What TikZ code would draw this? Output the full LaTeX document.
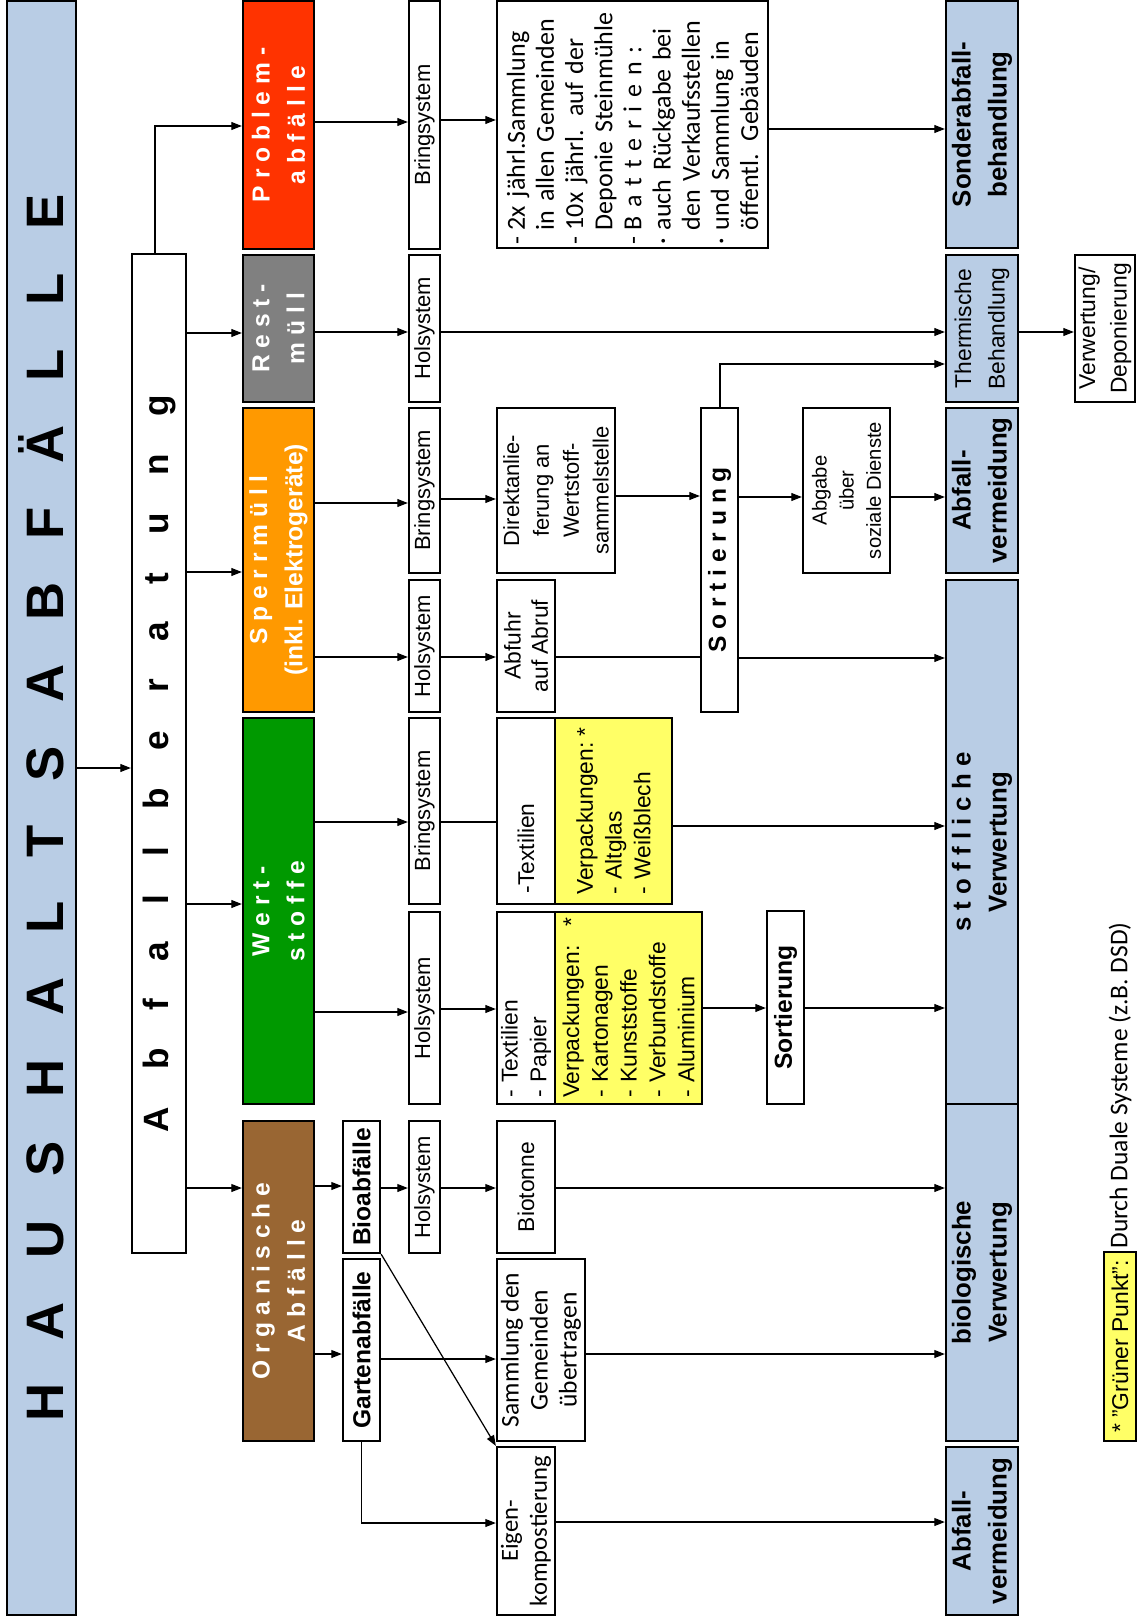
\documentclass[tikz,border=0pt]{standalone}
\usepackage{fontspec}
\setmainfont{Liberation Sans}
\newfontfamily\carlito{Carlito}
\usepackage{tikz}
\usetikzlibrary{arrows.meta}

\definecolor{zielblau}{HTML}{B9CDE5}
\definecolor{problemrot}{HTML}{FF3300}
\definecolor{restgrau}{HTML}{808080}
\definecolor{sperrorange}{HTML}{FF9900}
\definecolor{wertgruen}{HTML}{009900}
\definecolor{biobraun}{HTML}{996633}
\definecolor{punktgelb}{HTML}{FFFF66}

\newcommand{\strich}{\makebox[0.55em][l]{-}}
\newcommand{\mittelpunkt}{\makebox[0.55em][l]{·}}
\newcommand{\einzug}{\hspace*{0.55em}}

\begin{document}
\begin{tikzpicture}[
    x=0.02cm, y=-0.02cm,
    box/.style={rectangle, draw=black, line width=1.3pt, fill=white, rotate=90, inner sep=1pt, align=center},
    boxsize/.style 2 args={minimum height=#1*0.02cm, minimum width=#2*0.02cm},
    waste/.style={box, text=white, font=\bfseries\fontsize{14}{20}\selectfont},
    sys/.style={box, font=\fontsize{12.5}{15}\selectfont},
    info/.style={box, font=\fontsize{13}{16.4}\selectfont},
    dual/.style={info, fill=punktgelb, align=left},
    goal/.style={box, fill=zielblau, font=\bfseries\fontsize{14.7}{20.5}\selectfont},
    sortbox/.style={box, font=\bfseries\fontsize{14}{17}\selectfont},
    arrow/.style={-{Triangle[length=6pt,width=4.5pt]}, line width=0.7pt},
    link/.style={line width=0.7pt}
]
    \useasboundingbox (0,0) rectangle (1139,1618);

    % Haushalt und Beratung
    \node[box, boxsize={69}{1614}, fill=zielblau, font=\bfseries\fontsize{30}{30}\selectfont] (haus) at (41.5,808)
        {\makebox[24.56cm][s]{H A U S H A L T S A B F Ä L L E}};
    \node[box, boxsize={54}{999}, font=\bfseries\fontsize{20}{20}\selectfont] (beratung) at (159,753.5)
        {\makebox[14.76cm][s]{A b f a l l b e r a t u n g}\hspace{0.42cm}};

    % Abfallarten
    \node[waste, boxsize={71}{248}, fill=problemrot] (prob) at (278.5,125) {P r o b l e m -\\a b f ä l l e};
    \node[waste, boxsize={71}{147}, fill=restgrau] (rest) at (278.5,328.5) {R e s t -\\m ü l l};
    \node[waste, boxsize={71}{304}, fill=sperrorange] (sperr) at (278.5,560) {S p e r r m ü l l\\(inkl. Elektrogeräte)};
    \node[waste, boxsize={71}{386}, fill=wertgruen] (wert) at (278.5,911) {W e r t -\\s t o f f e};
    \node[waste, boxsize={71}{320}, fill=biobraun] (organ) at (278.5,1281) {O r g a n i s c h e\\A b f ä l l e};
    \node[sortbox, boxsize={37}{132}, inner sep=0pt] (bio) at (361.5,1187) {Bioabfälle};
    \node[sortbox, boxsize={37}{182}, inner sep=0pt] (garten) at (361.5,1350) {Gartenabfälle};

    % Sammelsysteme
    \node[sys, boxsize={31}{248}] (bringprob) at (424.5,125) {Bringsystem};
    \node[sys, boxsize={31}{147}] (holrest) at (424.5,328.5) {Holsystem};
    \node[sys, boxsize={31}{165}] (bringsperr) at (424.5,490.5) {Bringsystem};
    \node[sys, boxsize={31}{132}] (holsperr) at (424.5,646) {Holsystem};
    \node[sys, boxsize={31}{186}] (bringwert) at (424.5,811) {Bringsystem};
    \node[sys, boxsize={31}{192}] (holwert) at (424.5,1008) {Holsystem};
    \node[sys, boxsize={31}{132}] (holbio) at (424.5,1187) {Holsystem};

    % Erfassung
    \node[info, boxsize={271}{247}, align=left, text width=4.8cm, font=\carlito\fontsize{14.8}{16.6}\selectfont] (probtext) at (632.5,124.5)
        {\strich 2x jährl.Sammlung\\
         \einzug in allen Gemeinden\\
         \strich 10x jährl. auf der\\
         \einzug Deponie Steinmühle\\
         \strich B a t t e r i e n :\\
         \mittelpunkt auch Rückgabe bei\\
         \einzug den Verkaufsstellen\\
         \mittelpunkt und Sammlung in\\
         \einzug öffentl. Gebäuden};
    \node[info, boxsize={118}{165}, font=\fontsize{12.5}{17}\selectfont] (direkt) at (556,490.5) {Direktanlie-\\ferung an\\Wertstoff-\\sammelstelle};
    \node[info, boxsize={58}{132}, font=\fontsize{13}{15.5}\selectfont] (abruf) at (526,646) {Abfuhr\\auf Abruf};
    \node[info, boxsize={58}{186}, align=left, text width=3.3cm] (textilb) at (526,811) {-Textilien};
    \node[dual, boxsize={117}{186}, text width=3.35cm] (glas) at (613.5,811) {Verpackungen:\hfill *\\- Altglas\\- Weißblech};
    \node[info, boxsize={58}{192}, align=left, text width=3.6cm] (textilh) at (526,1008) {- Textilien\\- Papier};
    \node[dual, boxsize={147}{192}, text width=3.6cm] (verpack) at (628.5,1008)
        {Verpackungen:\hfill *\\- Kartonagen\\- Kunststoffe\\- Verbundstoffe\\- Aluminium};
    \node[info, boxsize={58}{132}] (biotonne) at (526,1187) {Biotonne};
    \node[info, boxsize={88}{182}, font=\carlito\fontsize{14.5}{16.5}\selectfont] (sammlung) at (541,1350) {Sammlung den\\Gemeinden\\übertragen};
    \node[info, boxsize={58}{168}, inner sep=0pt, font=\carlito\fontsize{14}{16.5}\selectfont] (eigen) at (526,1531) {Eigen-\\kompostierung};

    % Sortierung
    \node[sortbox, boxsize={37}{304}] (sortbig) at (719.5,560) {S o r t i e r u n g};
    \node[sortbox, boxsize={37}{193}] (sortsmall) at (785.5,1007.5) {Sortierung};
    \node[info, boxsize={87}{165}, font=\fontsize{11.5}{15.5}\selectfont] (abgabe) at (846.5,490.5) {Abgabe\\über\\soziale Dienste};

    % Behandlung
    \node[goal, boxsize={72}{247}] (sonder) at (982,124.5) {Sonderabfall-\\behandlung};
    \node[goal, boxsize={72}{147}, font=\fontsize{13}{19}\selectfont] (thermisch) at (982,328.5) {Thermische\\Behandlung};
    \node[goal, boxsize={72}{165}] (vermeidung1) at (982,490.5) {Abfall-\\vermeidung};
    \node[goal, boxsize={72}{524}] (stoffl) at (982,842) {s t o f f l i c h e\\Verwertung};
    \node[goal, boxsize={72}{337}] (biolog) at (982,1272.5) {biologische\\Verwertung};
    \node[goal, boxsize={72}{168}] (vermeidung2) at (982,1531) {Abfall-\\vermeidung};
    \node[info, boxsize={60}{147}, font=\fontsize{13}{18}\selectfont] (deponie) at (1105,328.5) {Verwertung/\\Deponierung};

    % Fussnote
    \node[box, boxsize={32}{189}, fill=punktgelb, inner sep=0pt, font=\fontsize{13}{15}\selectfont] (punkt) at (1120,1346.5) {* "Grüner Punkt":};
    \node[rotate=90, anchor=west, inner sep=0pt, font=\carlito\fontsize{14.5}{16}\selectfont] (dsd) at (1120,1249) {Durch Duale Systeme (z.B. DSD)};

    % Haushalt zur Beratung
    \draw[arrow] (haus.south |- 0,768) -- (beratung.north |- 0,768);
    % Beratung zu den Abfallarten
    \draw[arrow] (beratung.east -| 155,0) |- (prob.north |- 0,126);
    \draw[arrow] (beratung.south |- 0,333) -- (rest.north |- 0,333);
    \draw[arrow] (beratung.south |- 0,572) -- (sperr.north |- 0,572);
    \draw[arrow] (beratung.south |- 0,904) -- (wert.north |- 0,904);
    \draw[arrow] (beratung.south |- 0,1188) -- (organ.north |- 0,1188);
    % Sammelsysteme
    \draw[arrow] (prob.south |- 0,122) -- (bringprob.north |- 0,122);
    \draw[arrow] (rest.south |- 0,332) -- (holrest.north |- 0,332);
    \draw[arrow] (sperr.south |- 0,503) -- (bringsperr.north |- 0,503);
    \draw[arrow] (sperr.south |- 0,657) -- (holsperr.north |- 0,657);
    \draw[arrow] (wert.south |- 0,822) -- (bringwert.north |- 0,822);
    \draw[arrow] (wert.south |- 0,1012) -- (holwert.north |- 0,1012);
    \draw[arrow] (organ.south |- 0,1186) -- (bio.north |- 0,1186);
    \draw[arrow] (organ.south |- 0,1354) -- (garten.north |- 0,1354);
    \draw[arrow] (bio.south |- 0,1188) -- (holbio.north |- 0,1188);
    % Erfassung
    \draw[arrow] (bringprob.south |- 0,120) -- (probtext.north |- 0,120);
    \draw[arrow] (holrest.south |- 0,332) -- (thermisch.north |- 0,332);
    \draw[arrow] (bringsperr.south |- 0,499) -- (direkt.north |- 0,499);
    \draw[arrow] (holsperr.south |- 0,657) -- (abruf.north |- 0,657);
    \draw[link] (bringwert.south |- 0,822) -- (textilb.north |- 0,822);
    \draw[arrow] (holwert.south |- 0,1009) -- (textilh.north |- 0,1009);
    \draw[arrow] (holbio.south |- 0,1188) -- (biotonne.north |- 0,1188);
    \draw[arrow] (garten.south |- 0,1359) -- (sammlung.north |- 0,1359);
    \draw[arrow] (bio.south west) -- (eigen.north east);
    \draw[arrow] (garten.west) |- (eigen.north |- 0,1523);
    % Behandlung
    \draw[arrow] (probtext.south |- 0,129) -- (sonder.north |- 0,129);
    \draw[arrow] (direkt.south |- 0,496) -- (sortbig.north |- 0,496);
    \draw[link] (abruf.south |- 0,657) -- (sortbig.north |- 0,657);
    \draw[arrow] (sortbig.south |- 0,658) -- (stoffl.north |- 0,658);
    \draw[arrow] (sortbig.south |- 0,497) -- (abgabe.north |- 0,497);
    \draw[arrow] (abgabe.south |- 0,497) -- (vermeidung1.north |- 0,497);
    \draw[arrow] (sortbig.east -| 720,0) |- (thermisch.north |- 0,364);
    \draw[arrow] (glas.south |- 0,826) -- (stoffl.north |- 0,826);
    \draw[arrow] (verpack.south |- 0,1008) -- (sortsmall.north |- 0,1008);
    \draw[arrow] (sortsmall.south |- 0,1008) -- (stoffl.north |- 0,1008);
    \draw[arrow] (biotonne.south |- 0,1188) -- (biolog.north |- 0,1188);
    \draw[arrow] (sammlung.south |- 0,1354) -- (biolog.north |- 0,1354);
    \draw[arrow] (eigen.south |- 0,1522) -- (vermeidung2.north |- 0,1522);
    \draw[arrow] (thermisch.south |- 0,332) -- (deponie.north |- 0,332);
\end{tikzpicture}
\end{document}
